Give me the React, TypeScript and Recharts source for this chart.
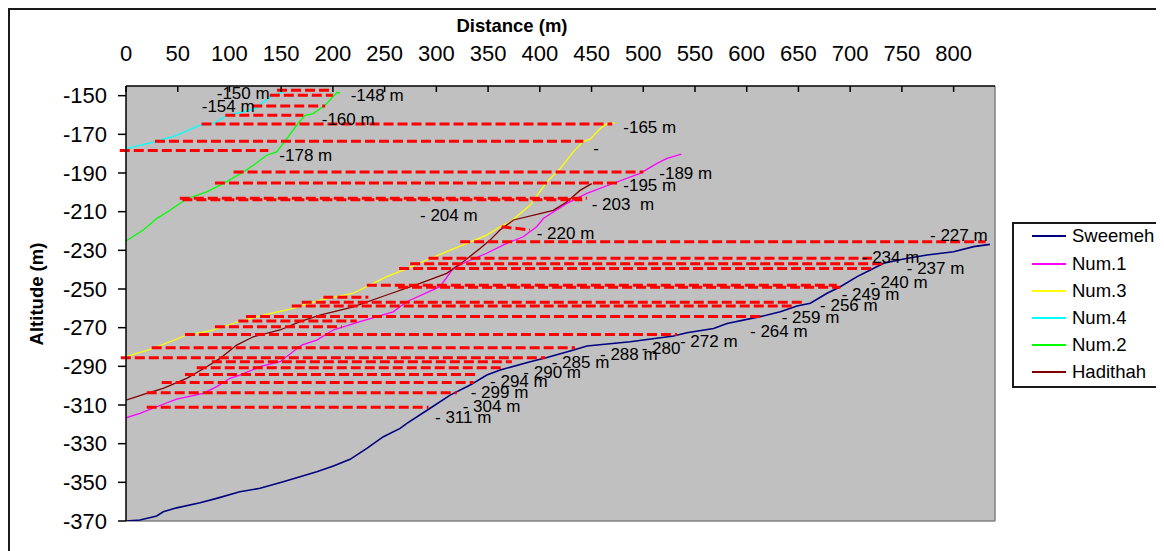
import React from 'react';
import { LineChart, Line, XAxis, YAxis, CartesianGrid, ReferenceLine, ReferenceDot } from 'recharts';

const FONT = '"Liberation Sans", Arial, Helvetica, sans-serif';
const W = 1154;
const H = 541;
const PLOT_TOP = 76;

const X_TICKS = [0, 50, 100, 150, 200, 250, 300, 350, 400, 450, 500, 550, 600, 650, 700, 750, 800];
const Y_TICKS = [-370, -350, -330, -310, -290, -270, -250, -230, -210, -190, -170, -150];

const sweemeh = [
  [0, -370], [13.5, -369.5], [29.7, -367.4], [36, -365.2], [49, -363.2], [71.6, -360.6], [87.7, -358.3],
  [110, -354.9], [129.6, -353.1], [152, -349.7], [184.4, -344.5], [200.5, -341.6], [216.6, -338.1],
  [232.8, -332.4], [248.8, -326.4], [265, -322.1], [271.5, -319.5], [294, -311.7], [313.3, -304.9],
  [332.7, -299.7], [348.8, -294.5], [361.7, -291.9], [390.7, -287.6], [406.9, -285.4], [432.7, -281.6],
  [445.5, -279.5], [487.4, -277.3], [529.3, -274.3], [542.2, -272.6], [568, -270.4], [581, -267.8],
  [613, -264.3], [632.5, -261.8], [648.6, -258.8], [661.5, -257.4], [677.7, -252.2], [690.5, -248.8],
  [706.7, -243.6], [719.5, -240.2], [732.4, -236.7], [751.7, -234.5], [774.3, -232.4], [800, -230.7],
  [819.4, -228.1], [835, -226.9],
];

const num1 = [
  [0, -316.6], [13.5, -314.3], [29.7, -310.9], [49, -307], [74.7, -304], [87.7, -300.5], [100.5, -296.2],
  [110, -294.5], [129.5, -290.2], [148.9, -287.6], [169.8, -279], [184.4, -276.4], [200.4, -271.2],
  [226.2, -266.9], [258.4, -261.8], [271.3, -256.6], [303.5, -248.8], [316.4, -239.3], [329.4, -235.9],
  [348.7, -231.5], [368, -226.4], [384, -223], [397, -217.8], [403.6, -213.4], [426.2, -205.7],
  [445.5, -200.5], [471.3, -195.3], [497, -190.2], [513.3, -185], [523, -182.4], [536.8, -180.2],
];

const num3 = [
  [0, -285], [26.4, -280.7], [58.7, -273.8], [81.2, -271.7], [107, -267.2], [132.7, -263.5],
  [161.7, -260], [187.5, -255.7], [219.7, -252.2], [239, -247.1], [252, -243.6], [268, -240.2],
  [290.7, -235], [310, -230.7], [329.4, -226.4], [348.7, -222.1], [361.5, -217.8], [371.2, -215.4],
  [390.5, -206.7], [406.7, -194.7], [419.5, -187.8], [432.4, -179.1], [442.1, -173.6], [448.5, -172.6],
  [458.2, -167.1], [464.6, -164.5], [472.7, -164.1],
];

const num4 = [
  [0, -177.4], [26.4, -174], [49, -170.5], [71.5, -165.3], [84.4, -164.5], [97.3, -160.2],
  [113.4, -158.4], [126.3, -156.4], [132.7, -153.3], [142.4, -149.8], [152, -148.1],
];

const num2 = [
  [0, -225.2], [16.7, -219.5], [29.7, -213.6], [42.5, -209.3], [58.7, -203.3], [78, -199.8],
  [94, -195.5], [113.4, -189.5], [123, -186], [136, -180.8], [145.7, -179.1], [155.3, -172.3],
  [165, -165.3], [173, -160.2], [181, -159.3], [192.4, -155], [203.7, -148.5], [206.9, -148.5],
];

const hadithah = [
  [0, -307.5], [20, -304], [36, -301.4], [58.7, -296.2], [78, -290.2], [90.9, -285.9], [107, -279],
  [123, -274.7], [148.9, -271.2], [168.2, -266.9], [187.5, -263.5], [219.7, -259.2], [252, -253.1],
  [284.2, -247.1], [310, -241.9], [326, -235.9], [342.2, -229], [351.9, -224.7], [361.5, -219.5],
  [374.6, -214.3], [400.2, -211], [413, -209.3], [426, -205], [438.9, -199], [450.2, -195.5],
];

const seriesNames = ['Sweemeh', 'Num.1', 'Num.3', 'Num.4', 'Num.2', 'Hadithah'];
const seriesColors = ['#000080', '#FF00FF', '#FFFF00', '#00FFFF', '#00FF00', '#800000'];
const seriesWidths = [1.6, 1.3, 1.3, 1.3, 1.3, 1.3];
const seriesPoints = [sweemeh, num1, num3, num4, num2, hadithah];

// red dashed altitude levels
const levelY = [
  -147.2, -149.8, -155.3, -160.1, -164.7, -173.6, -178.3, -189.5, -195.2, -203.0, -203.8,
  -225.5, -234.1, -237.0, -239.4, -248.0, -249.1, -254.3, -256.9, -258.8, -264.2, -266.6,
  -269.5, -273.5, -280.4, -285.6, -287.6, -290.7, -294.2, -298.3, -303.7, -311.1,
];
const levelStart = [
  146, 139, 122, 96, 73, 28, -6, 104, 86, 52, 54.5,
  323, 292.4, 274.7, 264, 232.8, 263, 190.8, 169.9, 160.2, 116, 108.6,
  86, 57, 24.8, -5, 83, 68.4, 57, 34.5, 20, 20,
];
const levelEnd = [
  199, 200, 192.5, 171.5, 470, 442, 137.6, 500, 476, 445.5, 441,
  831, 721, 731, 723, 687, 690.5, 234.3, 656.7, 647, 613, 223,
  208.6, 532.6, 434, 405, 373, 365, 337.5, 336, 319.8, 292.4,
];
const slopedLevel = [[363, -217.8], [390.5, -219.5]];

const labelText = [
  '-150 m', '-148 m', '-154 m', '-160 m', '-165 m', '-', '-178 m', '-189 m', '-195 m', '- 203  m',
  '- 204 m', '- 220 m', '- 227 m', '- 234 m', '- 237 m', '- 240 m', '- 249 m', '- 256 m', '- 259 m',
  '- 264 m', '- 272 m', '- 280', '- 288 m', '- 285 m', '- 290 m', '- 294 m', '- 299 m', '- 304 m', '- 311 m',
];
const labelX = [
  87.7, 217.2, 73.2, 189.2, 480.7, 451.7, 148.2, 515.5, 480.7, 450.2,
  284.2, 397, 777.2, 711.2, 754.7, 719.2, 691.8, 670.9, 633.8,
  603.2, 535.5, 498.5, 458.2, 411.5, 384.1, 351.9, 333.2, 325.5, 298.7,
];
const labelY = [
  -148.5, -149.5, -155.3, -161.9, -166.1, -177.2, -180.8, -189.8, -196.2, -206.0,
  -211.7, -221.2, -222.1, -233.3, -239.3, -246.2, -252.6, -258.3, -264.4,
  -271.7, -276.7, -280.3, -283.7, -287.6, -292.8, -297.4, -303.1, -310.5, -316.3,
];

const XTick = (props: any) => {
  const { x, payload } = props;
  return (
    <g>
      <line x1={x} x2={x} y1={PLOT_TOP} y2={PLOT_TOP + 6} stroke="#000" strokeWidth={1.5} />
      <text x={x} y={PLOT_TOP - 33} dy="0.355em" textAnchor="middle" fontSize={22} fill="#000" fontFamily={FONT}>
        {payload.value}
      </text>
    </g>
  );
};

const XTitle = () => (
  <text x={502} y={15} dy="0.355em" textAnchor="middle" fontSize={18.5} fontWeight="bold" fill="#000" fontFamily={FONT}>
    Distance (m)
  </text>
);

const YTitle = () => (
  <text
    x={26}
    y={284}
    dy="0.355em"
    textAnchor="middle"
    fontSize={18.5}
    fontWeight="bold"
    fill="#000"
    fontFamily={FONT}
    transform="rotate(-90 26 284)"
  >
    Altitude (m)
  </text>
);

export default function App() {
  return (
    <div
      style={{
        position: 'relative',
        width: W,
        height: H,
        borderTop: '2px solid #1a1a1a',
        borderLeft: '2px solid #1a1a1a',
        fontFamily: FONT,
        background: '#fff',
      }}
    >
      <LineChart width={W} height={H} margin={{ top: 0, left: 0, right: 169, bottom: 30 }}>
        <CartesianGrid fill="#C0C0C0" horizontal={false} vertical={false} stroke="none" />
        <XAxis
          xAxisId={0}
          orientation="top"
          type="number"
          dataKey="x"
          domain={[0, 840]}
          ticks={X_TICKS}
          interval={0}
          height={76}
          allowDataOverflow
          axisLine={{ stroke: '#000', strokeWidth: 1.5 }}
          tickLine={false}
          tick={XTick}
          label={<XTitle />}
        />
        <YAxis
          yAxisId={0}
          type="number"
          dataKey="y"
          domain={[-370, -145]}
          ticks={Y_TICKS}
          interval={0}
          width={116}
          allowDataOverflow
          tickSize={8}
          tickMargin={11}
          axisLine={{ stroke: '#000', strokeWidth: 1.5 }}
          tickLine={{ stroke: '#000', strokeWidth: 1.5 }}
          tick={{ fontSize: 22, fill: '#000', fontFamily: FONT }}
          label={<YTitle />}
        />
        <ReferenceLine x={840} stroke="#808080" strokeWidth={1.5} ifOverflow="visible" />
        <ReferenceLine y={-370} stroke="#808080" strokeWidth={1.5} ifOverflow="visible" />
        {seriesPoints.map((pts, i) => (
          <Line
            key={seriesNames[i]}
            name={seriesNames[i]}
            data={pts.map(([x, y]) => ({ x, y }))}
            dataKey="y"
            type="linear"
            stroke={seriesColors[i]}
            strokeWidth={seriesWidths[i]}
            dot={false}
            activeDot={false}
            isAnimationActive={false}
          />
        ))}
        {levelY.map((y, i) => (
          <ReferenceLine
            key={'lv' + i}
            segment={[
              { x: levelStart[i], y },
              { x: levelEnd[i], y },
            ]}
            stroke="#FF0000"
            strokeWidth={3}
            strokeDasharray="10 4"
            ifOverflow="visible"
          />
        ))}
        <ReferenceLine
          segment={[
            { x: slopedLevel[0][0], y: slopedLevel[0][1] },
            { x: slopedLevel[1][0], y: slopedLevel[1][1] },
          ]}
          stroke="#FF0000"
          strokeWidth={3}
          strokeDasharray="10 4"
          ifOverflow="visible"
        />
        {labelText.map((t, i) => (
          <ReferenceDot
            key={'lb' + i}
            x={labelX[i]}
            y={labelY[i]}
            r={0}
            ifOverflow="visible"
            shape={(p: any) => (
              <text x={p.cx} y={p.cy} dy="0.355em" fontSize={17} fill="#000" fontFamily={FONT} style={{ whiteSpace: 'pre' }}>
                {t}
              </text>
            )}
          />
        ))}
      </LineChart>
      <div
        style={{
          position: 'absolute',
          left: 1002,
          top: 212,
          width: 200,
          height: 166,
          border: '2px solid #1a1a1a',
          background: '#fff',
          boxSizing: 'border-box',
        }}
      >
        {seriesNames.map((n, i) => (
          <div
            key={n}
            style={{
              position: 'absolute',
              left: 0,
              top: 14.4 + i * 27.2 - 2 - 12,
              height: 24,
              display: 'flex',
              alignItems: 'center',
            }}
          >
            <div style={{ marginLeft: 18, width: 34, height: 2, background: seriesColors[i] }} />
            <span style={{ marginLeft: 6, fontSize: 18.5, color: '#000', fontFamily: FONT, lineHeight: '24px' }}>{n}</span>
          </div>
        ))}
      </div>
    </div>
  );
}
